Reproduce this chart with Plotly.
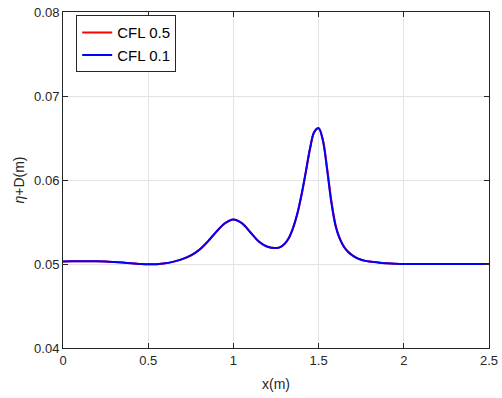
import plotly.graph_objects as go

x_vals = [0.0, 0.05, 0.1, 0.15, 0.2, 0.25, 0.3, 0.35, 0.4, 0.45, 0.5, 0.55, 0.6, 0.65,
          0.7, 0.75, 0.8, 0.85, 0.9, 0.95, 1.0, 1.05, 1.1, 1.15, 1.2, 1.25,
          1.275, 1.3, 1.325, 1.35, 1.375, 1.4, 1.425, 1.45, 1.475, 1.5, 1.525,
          1.55, 1.575, 1.6, 1.625, 1.65, 1.675, 1.7, 1.725, 1.75, 1.775, 1.8,
          1.825, 1.85, 1.875, 1.9, 1.95, 2.0, 2.1, 2.2, 2.3, 2.4, 2.5]
cfl_01 = [0.05030, 0.05032, 0.05034, 0.05034, 0.05033, 0.05030, 0.05024, 0.05017,
          0.05008, 0.05001, 0.04996, 0.04998, 0.05008, 0.05028,
          0.05058, 0.05102, 0.05170, 0.05270, 0.05385, 0.05485, 0.05530, 0.05485,
          0.05375, 0.05265, 0.05205, 0.05190,
          0.05202, 0.05240, 0.05310, 0.05430, 0.05600, 0.05830, 0.06100, 0.06380,
          0.06575, 0.06615, 0.06470,
          0.06120, 0.05730, 0.05450, 0.05295, 0.05200, 0.05140, 0.05100, 0.05070,
          0.05050, 0.05037, 0.05029,
          0.05023, 0.05018, 0.05013, 0.05009, 0.05004, 0.05001, 0.05000, 0.05000,
          0.05000, 0.05000, 0.05000]
cfl_05 = [0.05030, 0.05032, 0.05034, 0.05034, 0.05033, 0.05030, 0.05024, 0.05017,
          0.05008, 0.05001, 0.04996, 0.04998, 0.05008, 0.05028,
          0.05058, 0.05101, 0.05168, 0.05267, 0.05382, 0.05483, 0.05530, 0.05487,
          0.05378, 0.05267, 0.05206, 0.05190,
          0.05201, 0.05238, 0.05307, 0.05425, 0.05592, 0.05820, 0.06090, 0.06372,
          0.06573, 0.06618, 0.06480,
          0.06140, 0.05750, 0.05462, 0.05302, 0.05204, 0.05142, 0.05101, 0.05071,
          0.05051, 0.05037, 0.05029,
          0.05023, 0.05018, 0.05013, 0.05009, 0.05004, 0.05001, 0.05000, 0.05000,
          0.05000, 0.05000, 0.05000]
series_names = ["CFL 0.5", "CFL 0.1"]
x_ticks = [0, 0.5, 1, 1.5, 2, 2.5]
x_tick_text = ["0", "0.5", "1", "1.5", "2", "2.5"]
y_ticks = [0.04, 0.05, 0.06, 0.07, 0.08]
y_tick_text = ["0.04", "0.05", "0.06", "0.07", "0.08"]

axis_col = "#262626"
font_fam = "Liberation Sans, Arial, sans-serif"

fig = go.Figure()
fig.add_trace(go.Scatter(x=x_vals, y=cfl_05, mode="lines", name=series_names[0],
                         line=dict(color="#ff0000", width=2, shape="spline", smoothing=1.0)))
fig.add_trace(go.Scatter(x=x_vals, y=cfl_01, mode="lines", name=series_names[1],
                         line=dict(color="#0000ff", width=2, shape="spline", smoothing=1.0)))

common = dict(showline=True, linecolor=axis_col, linewidth=1, mirror="ticks",
              ticks="inside", ticklen=5, tickcolor=axis_col, automargin=False,
              showgrid=True, gridcolor="#e3e3e3", gridwidth=1, zeroline=False,
              tickfont=dict(family=font_fam, size=13, color=axis_col))

fig.update_xaxes(range=[0, 2.5], tickvals=x_ticks, ticktext=x_tick_text,
                 title=dict(text="x(m)", font=dict(family=font_fam, size=14, color=axis_col),
                            standoff=12),
                 **common)
fig.update_yaxes(range=[0.04, 0.08], tickvals=y_ticks, ticktext=y_tick_text,
                 title=dict(text="<i>η</i>+D(m)", font=dict(family=font_fam, size=14, color=axis_col),
                            standoff=6),
                 **common)

fig.update_layout(
    width=502, height=398,
    margin=dict(l=63, r=13, t=12, b=50),
    paper_bgcolor="white", plot_bgcolor="white",
    showlegend=True,
    legend=dict(x=0.031, y=0.99, xanchor="left", yanchor="top",
                bgcolor="white", bordercolor=axis_col, borderwidth=1,
                font=dict(family=font_fam, size=15, color="#000000"),
                tracegroupgap=0, itemwidth=30),
)

fig.write_html("out.html")
